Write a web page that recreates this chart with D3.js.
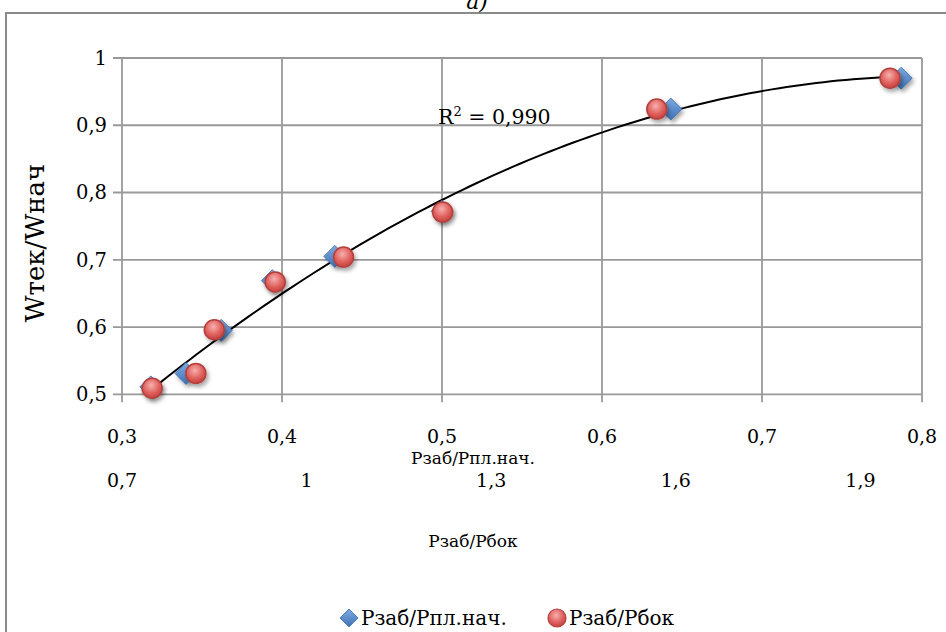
<!DOCTYPE html>
<html>
<head>
<meta charset="utf-8">
<script src="https://cdn.jsdelivr.net/npm/d3@7"></script>
<style>
  body { margin: 0; background: #fff; }
  svg { display: block; }
  svg text { font-family: "DejaVu Serif", serif; }
</style>
</head>
<body>
<svg id="chart" width="946" height="632"></svg>
<script>
// primary series: Pзаб/Pпл.нач.
const xPrimary = [0.318, 0.340, 0.362, 0.394, 0.433, 0.500, 0.643, 0.787];
const yPrimary = [0.511, 0.531, 0.595, 0.669, 0.705, 0.772, 0.924, 0.970];
// secondary series: Pзаб/Pбок (second x axis, drawn below)
const xSecondary = [0.749, 0.820, 0.850, 0.949, 1.060, 1.221, 1.569, 1.948];
const ySecondary = [0.509, 0.531, 0.596, 0.667, 0.704, 0.771, 0.924, 0.970];

const xTicks = [0.3, 0.4, 0.5, 0.6, 0.7, 0.8];
const x2Ticks = [0.7, 1.0, 1.3, 1.6, 1.9];
const yTicks = [0.5, 0.6, 0.7, 0.8, 0.9, 1.0];
const r2Label = "0,990";

const fmt = d => String(+d.toFixed(1)).replace(".", ",");

const svg = d3.select("#chart");
const x = d3.scaleLinear().domain([0.3, 0.8]).range([122, 922]);
const x2 = d3.scaleLinear().domain([0.7, 2.0]).range([122, 922]);
const y = d3.scaleLinear().domain([0.5, 1]).range([394.3, 58]);

const defs = svg.append("defs");
const shadow = defs.append("filter").attr("id", "shadow")
  .attr("x", "-50%").attr("y", "-50%").attr("width", "200%").attr("height", "200%");
shadow.append("feDropShadow").attr("dx", 2).attr("dy", 3).attr("stdDeviation", 2)
  .attr("flood-color", "#000").attr("flood-opacity", 0.35);

const blueGrad = defs.append("linearGradient").attr("id", "blueGrad")
  .attr("x1", 0).attr("y1", 0).attr("x2", 0).attr("y2", 1);
blueGrad.append("stop").attr("offset", "0%").attr("stop-color", "#7eaae0");
blueGrad.append("stop").attr("offset", "100%").attr("stop-color", "#3f74b8");

const redGrad = defs.append("radialGradient").attr("id", "redGrad")
  .attr("cx", "45%").attr("cy", "35%").attr("r", "65%");
redGrad.append("stop").attr("offset", "0%").attr("stop-color", "#f7b0ae");
redGrad.append("stop").attr("offset", "60%").attr("stop-color", "#e0625f");
redGrad.append("stop").attr("offset", "100%").attr("stop-color", "#c4413e");

// diamond marker with half-diagonal h
const diamondPath = h => `M0,${-h}L${h},0L0,${h}L${-h},0Z`;

// chart frame
svg.append("rect")
  .attr("x", 6).attr("y", 13).attr("width", 960).attr("height", 640)
  .attr("fill", "none").attr("stroke", "#8a8a8a").attr("stroke-width", 2);

// title (partly cut at the top)
svg.append("text")
  .attr("x", 477).attr("y", 9)
  .attr("text-anchor", "middle")
  .attr("font-style", "italic")
  .attr("font-size", 22)
  .text("а)");

// grid
const grid = svg.append("g").attr("stroke", "#999").attr("stroke-width", 1.8);
grid.selectAll(".vx").data(xTicks).join("line")
  .attr("x1", d => x(d)).attr("x2", d => x(d))
  .attr("y1", y(1)).attr("y2", y(0.5) + 8);
grid.selectAll(".hy").data(yTicks).join("line")
  .attr("x1", x(0.3) - 9).attr("x2", x(0.8))
  .attr("y1", d => y(d)).attr("y2", d => y(d));

// y tick labels
svg.append("g").attr("font-size", 19.5)
  .selectAll("text").data(yTicks).join("text")
  .attr("x", 107).attr("y", d => y(d))
  .attr("dy", "0.35em")
  .attr("text-anchor", "end")
  .text(d => d === 1 ? "1" : fmt(d));

// x tick labels
svg.append("g").attr("font-size", 19)
  .selectAll("text").data(xTicks).join("text")
  .attr("x", d => x(d)).attr("y", 443)
  .attr("text-anchor", "middle")
  .text(fmt);

svg.append("g").attr("font-size", 19)
  .selectAll("text").data(x2Ticks).join("text")
  .attr("x", d => x2(d)).attr("y", 487)
  .attr("text-anchor", "middle")
  .text(d => d === 1 ? "1" : fmt(d));

// axis titles
svg.append("text")
  .attr("x", 473).attr("y", 464)
  .attr("text-anchor", "middle").attr("font-size", 17)
  .text("Рзаб/Рпл.нач.");
svg.append("text")
  .attr("x", 473).attr("y", 547)
  .attr("text-anchor", "middle").attr("font-size", 17)
  .text("Рзаб/Рбок");
svg.append("text")
  .attr("transform", "translate(44,243) rotate(-90)")
  .attr("text-anchor", "middle").attr("font-size", 26)
  .text("Wтек/Wнач");

// trendline: quadratic least squares on the secondary series
function quadFit(xs, ys) {
  let s = [0, 0, 0, 0, 0], t = [0, 0, 0];
  xs.forEach((xv, i) => {
    for (let k = 0; k < 5; k++) s[k] += Math.pow(xv, k);
    for (let k = 0; k < 3; k++) t[k] += ys[i] * Math.pow(xv, k);
  });
  const m = [[s[0], s[1], s[2], t[0]], [s[1], s[2], s[3], t[1]], [s[2], s[3], s[4], t[2]]];
  for (let i = 0; i < 3; i++) {
    for (let j = i + 1; j < 3; j++) {
      const f = m[j][i] / m[i][i];
      for (let k = i; k < 4; k++) m[j][k] -= f * m[i][k];
    }
  }
  const c = [0, 0, 0];
  for (let i = 2; i >= 0; i--) {
    let v = m[i][3];
    for (let k = i + 1; k < 3; k++) v -= m[i][k] * c[k];
    c[i] = v / m[i][i];
  }
  return c;
}
const coef = quadFit(xSecondary, ySecondary);
const [xMin, xMax] = d3.extent(xSecondary);
const trendPts = d3.range(0, 101).map(i => {
  const xv = xMin + (xMax - xMin) * i / 100;
  return [xv, coef[0] + coef[1] * xv + coef[2] * xv * xv];
});
svg.append("path")
  .datum(trendPts)
  .attr("fill", "none").attr("stroke", "#000").attr("stroke-width", 2)
  .attr("d", d3.line().x(d => x2(d[0])).y(d => y(d[1])));

svg.append("text")
  .attr("x", 438).attr("y", 124)
  .attr("font-size", 20.5)
  .html("R<tspan dy='-8' font-size='13'>2</tspan><tspan dy='8'> = " + r2Label + "</tspan>");

// markers
svg.append("g").selectAll("path").data(xPrimary).join("path")
  .attr("transform", (d, i) => `translate(${x(d)},${y(yPrimary[i])})`)
  .attr("d", diamondPath(11))
  .attr("fill", "url(#blueGrad)")
  .attr("stroke", "#3b6bab").attr("stroke-width", 0.8)
  .attr("filter", "url(#shadow)");

svg.append("g").selectAll("circle").data(xSecondary).join("circle")
  .attr("cx", d => x2(d)).attr("cy", (d, i) => y(ySecondary[i]))
  .attr("r", 10)
  .attr("fill", "url(#redGrad)")
  .attr("stroke", "#b3403d").attr("stroke-width", 1.5)
  .attr("filter", "url(#shadow)");

// legend
const legend = svg.append("g").attr("font-size", 20);
legend.append("path")
  .attr("transform", "translate(349,618)")
  .attr("d", diamondPath(9))
  .attr("fill", "url(#blueGrad)").attr("stroke", "#3b6bab").attr("stroke-width", 0.8);
legend.append("text").attr("x", 361).attr("y", 625).text("Рзаб/Рпл.нач.");
legend.append("circle")
  .attr("cx", 557).attr("cy", 618).attr("r", 9)
  .attr("fill", "url(#redGrad)").attr("stroke", "#b3403d").attr("stroke-width", 1.2);
legend.append("text").attr("x", 569).attr("y", 625).text("Рзаб/Рбок");
</script>
</body>
</html>
